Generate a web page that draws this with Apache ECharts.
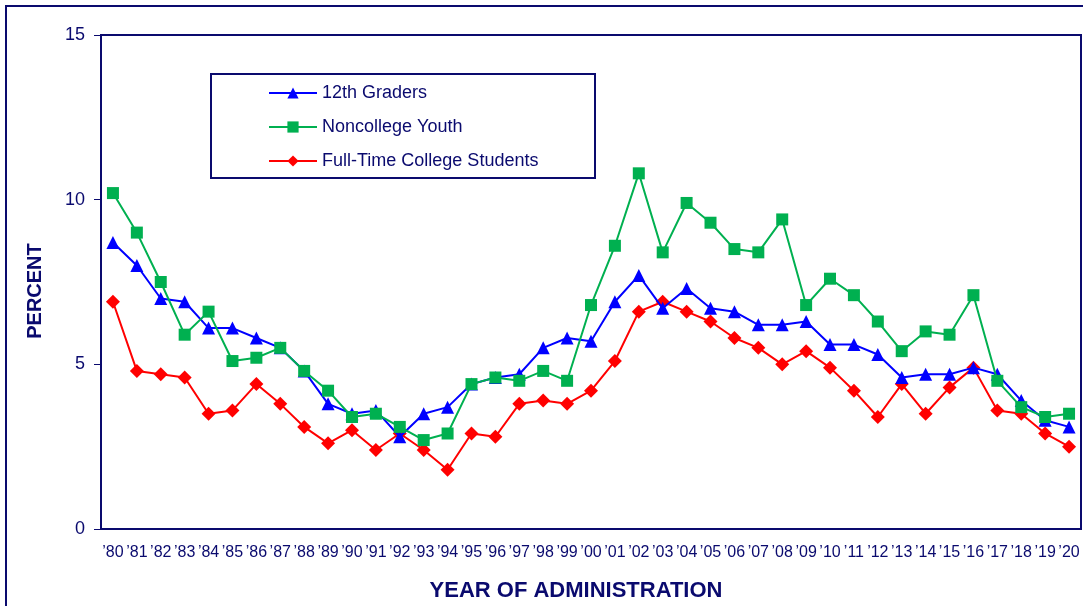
<!DOCTYPE html>
<html>
<head>
<meta charset="utf-8">
<script src="https://cdn.jsdelivr.net/npm/echarts@6/dist/echarts.min.js"></script>
<style>
html,body{margin:0;padding:0;background:#fff;overflow:hidden;}
#chart{width:1083px;height:606px;}
</style>
</head>
<body>
<div id="chart"></div>
<script>
const years = ["’80","’81","’82","’83","’84","’85","’86","’87","’88","’89","’90","’91","’92","’93","’94","’95","’96","’97","’98","’99","’00","’01","’02","’03","’04","’05","’06","’07","’08","’09","’10","’11","’12","’13","’14","’15","’16","’17","’18","’19","’20"];
const graders12 = [8.7,8.0,7.0,6.9,6.1,6.1,5.8,5.5,4.8,3.8,3.5,3.6,2.8,3.5,3.7,4.4,4.6,4.7,5.5,5.8,5.7,6.9,7.7,6.7,7.3,6.7,6.6,6.2,6.2,6.3,5.6,5.6,5.3,4.6,4.7,4.7,4.9,4.7,3.9,3.3,3.1];
const noncollege = [10.2,9.0,7.5,5.9,6.6,5.1,5.2,5.5,4.8,4.2,3.4,3.5,3.1,2.7,2.9,4.4,4.6,4.5,4.8,4.5,6.8,8.6,10.8,8.4,9.9,9.3,8.5,8.4,9.4,6.8,7.6,7.1,6.3,5.4,6.0,5.9,7.1,4.5,3.7,3.4,3.5];
const college = [6.9,4.8,4.7,4.6,3.5,3.6,4.4,3.8,3.1,2.6,3.0,2.4,2.9,2.4,1.8,2.9,2.8,3.8,3.9,3.8,4.2,5.1,6.6,6.9,6.6,6.3,5.8,5.5,5.0,5.4,4.9,4.2,3.4,4.4,3.5,4.3,4.9,3.6,3.5,2.9,2.5];
const yTicks = [0,5,10,15];

const navy = '#0a0a6e';
const font = 'Liberation Sans, Arial, sans-serif';
const chart = echarts.init(document.getElementById('chart'));
chart.setOption({
  animation: false,
  textStyle: {fontFamily: font, color: navy},
  graphic: [
    {type:'rect', shape:{x:6,y:6,width:1200,height:700}, style:{fill:'none', stroke:navy, lineWidth:2}, z:-1},
    {type:'rect', shape:{x:211,y:74,width:384,height:104}, style:{fill:'#fff', stroke:navy, lineWidth:2}, z:5},
    {type:'text', x:35, y:291, rotation:Math.PI/2, style:{text:'PERCENT', fontSize:20, fontWeight:'bold', fontFamily:font, fill:navy, textAlign:'center', textVerticalAlign:'middle'}},
    {type:'text', x:576, y:591, style:{text:'YEAR OF ADMINISTRATION', fontSize:22, fontWeight:'bold', fontFamily:font, fill:navy, textAlign:'center', textVerticalAlign:'middle'}}
  ],
  grid: {left:101, right:2, top:35, bottom:77, show:true, borderColor:navy, borderWidth:2},
  legend: {
    orient:'vertical', left:263, top:79, itemGap:16, itemWidth:48, itemHeight:14, z:10,
    textStyle:{fontSize:18, color:navy, fontFamily:font},
    data:['12th Graders','Noncollege Youth','Full-Time College Students']
  },
  xAxis: {
    type:'category', data: years, boundaryGap:true,
    axisLine:{lineStyle:{color:navy, width:2}},
    axisTick:{inside:true, length:5, lineStyle:{color:'#9999bb', width:1}},
    axisLabel:{fontSize:16, color:navy, margin:16, interval:0}
  },
  yAxis: {
    type:'value', min:0, max:15, interval:5,
    axisLine:{show:true, lineStyle:{color:navy, width:2}},
    axisTick:{show:true, length:7, lineStyle:{color:navy, width:1}},
    splitLine:{show:false},
    axisLabel:{fontSize:18, color:navy, margin:16, formatter: v => yTicks.includes(v) ? String(v) : ''}
  },
  series: [
    {name:'12th Graders', type:'line', data:graders12, symbol:'triangle', symbolSize:13,
     lineStyle:{color:'#0000ff', width:2}, itemStyle:{color:'#0000ff'}, z:3},
    {name:'Noncollege Youth', type:'line', data:noncollege, symbol:'rect', symbolSize:12,
     lineStyle:{color:'#00b050', width:2}, itemStyle:{color:'#00b050'}, z:4},
    {name:'Full-Time College Students', type:'line', data:college, symbol:'diamond', symbolSize:14,
     lineStyle:{color:'#ff0000', width:2}, itemStyle:{color:'#ff0000'}, z:2}
  ]
});
</script>
</body>
</html>
